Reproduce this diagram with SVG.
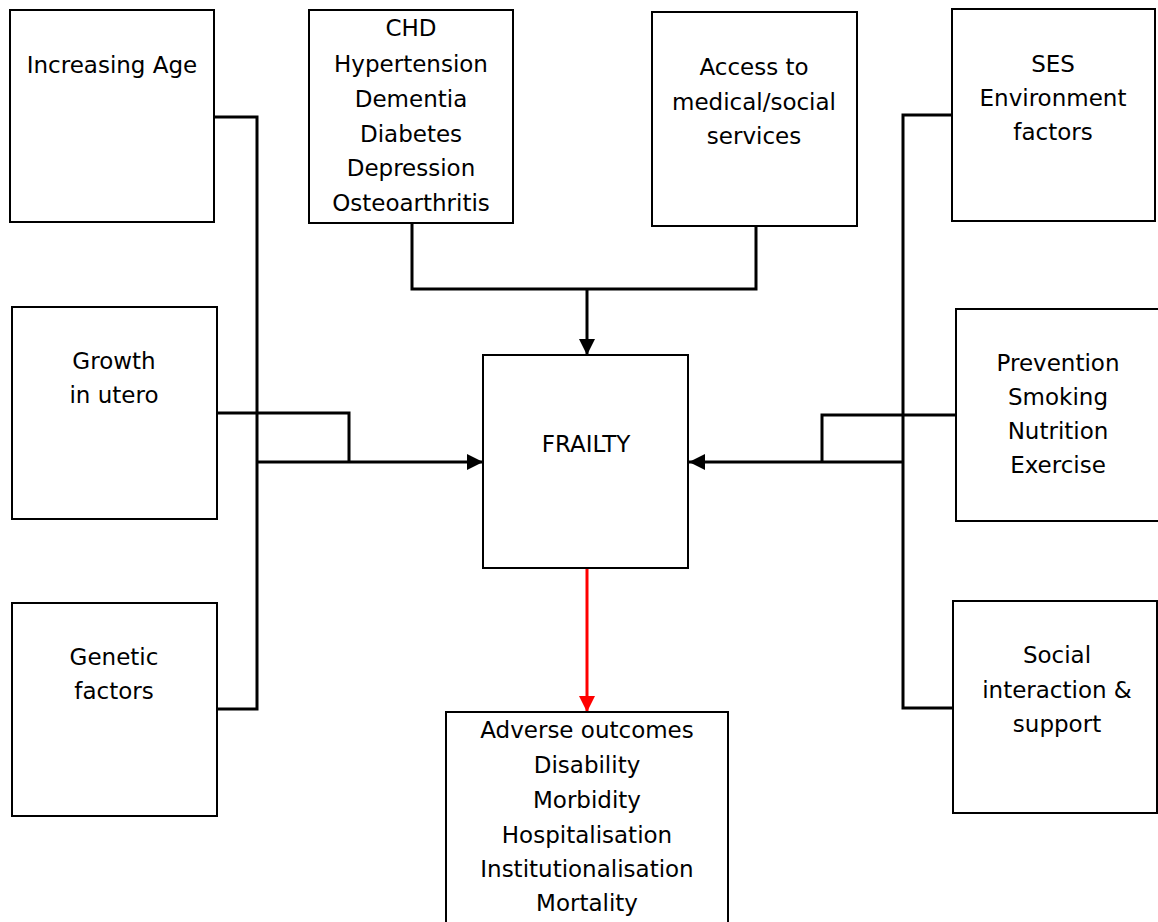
<svg xmlns="http://www.w3.org/2000/svg" width="1158" height="922" viewBox="0 0 1158 922">
<style>
.box{fill:#fff;stroke:#000;stroke-width:2}
.t{font-family:"DejaVu Sans","Liberation Sans",sans-serif;font-size:23px;fill:#000;text-anchor:middle}
.c{fill:none;stroke:#000;stroke-width:3}
.r{fill:none;stroke:#f00;stroke-width:3}
</style>
<defs>
<marker id="ah" markerUnits="userSpaceOnUse" markerWidth="16" markerHeight="16" refX="16" refY="8" orient="auto"><path d="M0,0 L16,8 L0,16 Z" fill="#000"/></marker>
<marker id="ahr" markerUnits="userSpaceOnUse" markerWidth="16" markerHeight="16" refX="16" refY="8" orient="auto"><path d="M0,0 L16,8 L0,16 Z" fill="#f00"/></marker>
</defs>
<rect width="1158" height="922" fill="#fff"/>
<g id="connectors">
<polyline class="c" points="214,117 257,117 257,709 217,709"/>
<polyline class="c" points="217,413 349,413 349,462"/>
<line class="c" x1="257" y1="462" x2="483" y2="462" marker-end="url(#ah)"/>
<polyline class="c" points="412,223 412,289 756,289 756,226"/>
<line class="c" x1="587" y1="289" x2="587" y2="355" marker-end="url(#ah)"/>
<polyline class="c" points="952,115 903,115 903,708 953,708"/>
<polyline class="c" points="956,415 822,415 822,462"/>
<line class="c" x1="903" y1="462" x2="689" y2="462" marker-end="url(#ah)"/>
<line class="r" x1="587" y1="568" x2="587" y2="712" marker-end="url(#ahr)"/>
</g>
<g id="increasing-age"><rect class="box" x="10" y="10" width="204" height="212"/><text class="t" x="112" y="73">Increasing Age</text></g>
<g id="conditions"><rect class="box" x="309" y="10" width="204" height="213"/>
<text class="t" x="411" y="36">CHD</text><text class="t" x="411" y="72">Hypertension</text><text class="t" x="411" y="107">Dementia</text><text class="t" x="411" y="142">Diabetes</text><text class="t" x="411" y="176">Depression</text><text class="t" x="411" y="211">Osteoarthritis</text></g>
<g id="access"><rect class="box" x="652" y="12" width="205" height="214"/>
<text class="t" x="754" y="75">Access to</text><text class="t" x="754" y="110">medical/social</text><text class="t" x="754" y="144">services</text></g>
<g id="ses"><rect class="box" x="952" y="9" width="203" height="212"/>
<text class="t" x="1053" y="72">SES</text><text class="t" x="1053" y="106">Environment</text><text class="t" x="1053" y="140">factors</text></g>
<g id="growth"><rect class="box" x="12" y="307" width="205" height="212"/>
<text class="t" x="114" y="369">Growth</text><text class="t" x="114" y="403">in utero</text></g>
<g id="frailty"><rect class="box" x="483" y="355" width="205" height="213"/>
<text class="t" x="586" y="452">FRAILTY</text></g>
<g id="prevention"><rect class="box" x="956" y="309" width="214" height="212"/>
<text class="t" x="1058" y="371">Prevention</text><text class="t" x="1058" y="405">Smoking</text><text class="t" x="1058" y="439">Nutrition</text><text class="t" x="1058" y="473">Exercise</text></g>
<g id="genetic"><rect class="box" x="12" y="603" width="205" height="213"/>
<text class="t" x="114" y="665">Genetic</text><text class="t" x="114" y="699">factors</text></g>
<g id="social"><rect class="box" x="953" y="601" width="204" height="212"/>
<text class="t" x="1057" y="663">Social</text><text class="t" x="1057" y="698">interaction &amp;</text><text class="t" x="1057" y="732">support</text></g>
<g id="adverse"><rect class="box" x="446" y="712" width="282" height="230"/>
<text class="t" x="587" y="738">Adverse outcomes</text><text class="t" x="587" y="773">Disability</text><text class="t" x="587" y="808">Morbidity</text><text class="t" x="587" y="843">Hospitalisation</text><text class="t" x="587" y="877">Institutionalisation</text><text class="t" x="587" y="911">Mortality</text></g>
</svg>
